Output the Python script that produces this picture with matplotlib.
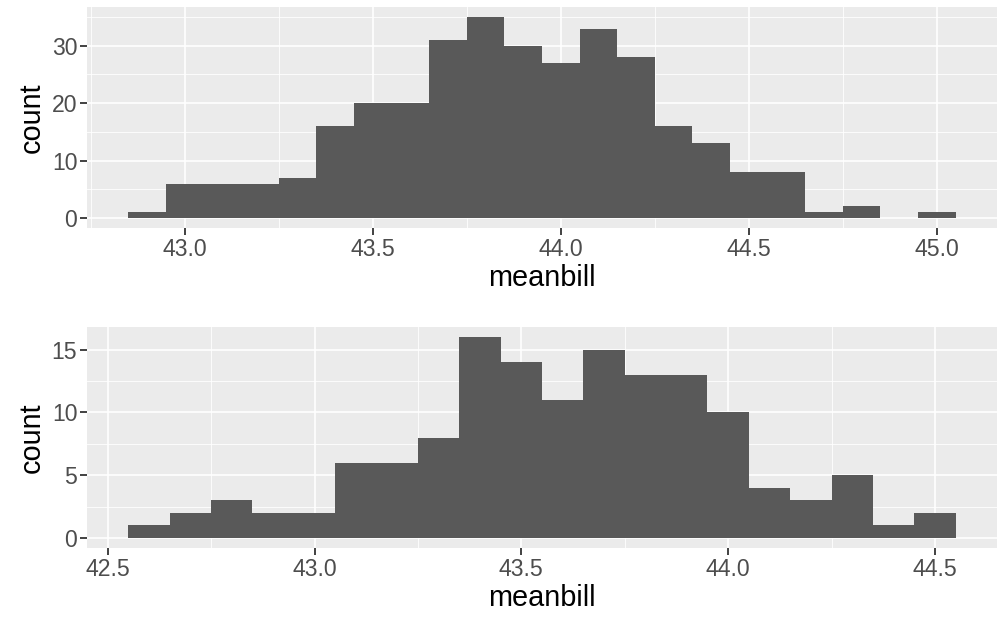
import numpy as np
import matplotlib
matplotlib.use("Agg")
import matplotlib.pyplot as plt
from matplotlib.ticker import MultipleLocator

# top histogram: bins of width 0.1 starting at 42.85
top_start = 42.85
top_counts = [1, 6, 6, 6, 7, 16, 20, 20, 31, 35, 30, 27, 33, 28, 16, 13, 8, 8, 1, 2, 0, 1]
top_xticks = [43.0, 43.5, 44.0, 44.5, 45.0]
top_yticks = [0, 10, 20, 30]

# bottom histogram: bins of width 0.1 starting at 42.55
bot_start = 42.55
bot_counts = [1, 2, 3, 2, 2, 6, 6, 8, 16, 14, 11, 15, 13, 13, 10, 4, 3, 5, 1, 2]
bot_xticks = [42.5, 43.0, 43.5, 44.0, 44.5]
bot_yticks = [0, 5, 10, 15]

binw = 0.1

plt.rcParams["font.family"] = ["Liberation Sans", "DejaVu Sans"]

fig = plt.figure(figsize=(10, 6.17), dpi=100)
ax1 = fig.add_axes([0.087, 389 / 617, 0.910, 221 / 617])
ax2 = fig.add_axes([0.087, 69 / 617, 0.910, 221 / 617])


def hist_panel(ax, start, counts, xticks, yticks, ymin_step):
    counts = np.array(counts)
    edges = start + binw * np.arange(len(counts))
    ax.set_facecolor("#EBEBEB")
    ax.bar(edges, counts, width=binw, align="edge", color="#595959", linewidth=0, zorder=3)
    lo, hi = edges[0], edges[-1] + binw
    pad = (hi - lo) * 0.05
    ax.set_xlim(lo - pad, hi + pad)
    top = counts.max()
    ax.set_ylim(-top * 0.05, top * 1.05)
    ax.set_xticks(xticks)
    ax.set_xticklabels(["%.1f" % t for t in xticks])
    ax.set_yticks(yticks)
    ax.xaxis.set_minor_locator(MultipleLocator(0.25))
    ax.yaxis.set_minor_locator(MultipleLocator(ymin_step))
    ax.grid(which="major", color="white", linewidth=1.2, zorder=0)
    ax.grid(which="minor", color="white", linewidth=0.6, zorder=0)
    ax.set_axisbelow(True)
    for s in ax.spines.values():
        s.set_visible(False)
    ax.tick_params(which="major", length=5, width=1.3, color="#333333",
                   labelcolor="#4D4D4D", labelsize=16.6, pad=2)
    ax.tick_params(which="minor", length=0)
    ax.set_xlabel("meanbill", fontsize=20.8, color="black", labelpad=2)
    ax.set_ylabel("count", fontsize=20.8, color="black", labelpad=4)


hist_panel(ax1, top_start, top_counts, top_xticks, top_yticks, 5)
hist_panel(ax2, bot_start, bot_counts, bot_xticks, bot_yticks, 2.5)

fig.savefig("out.png", dpi=100)
